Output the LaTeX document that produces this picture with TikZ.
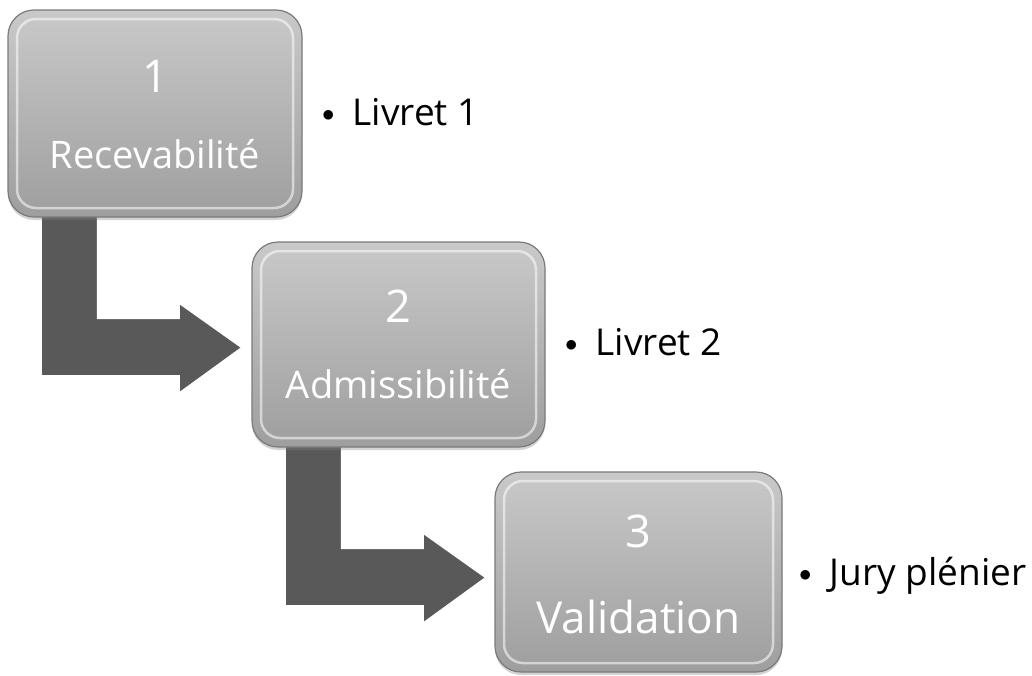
\documentclass[tikz,border=0pt]{standalone}
\usepackage{fontspec}
\setmainfont{Open Sans}
\usetikzlibrary{positioning, shadows, backgrounds}
\definecolor{arrowgray}{HTML}{595959}
\definecolor{boxtop}{HTML}{C9C9C9}
\definecolor{boxbottom}{HTML}{9E9E9E}
\definecolor{boxrim}{HTML}{7A7A7A}
\tikzstyle{stepbox}=[rounded corners=26pt, inner sep=0pt, draw=boxrim, line width=1.2pt,
  top color=boxtop, bottom color=boxbottom,
  drop shadow={shadow xshift=0pt, shadow yshift=-3pt, opacity=0.35},
  path picture={\draw[white, opacity=0.55, line width=2.5pt, rounded corners=19pt]
    ([shift={(9pt,-9pt)}]path picture bounding box.north west) rectangle
    ([shift={(-9pt,9pt)}]path picture bounding box.south east);}]
\tikzstyle{stepnum}=[anchor=base, inner sep=0pt, text=white, font=\fontsize{45}{45}\selectfont]
\tikzstyle{steptext}=[anchor=base, inner sep=0pt, text=white, font=\fontsize{38}{38}\selectfont]
\tikzstyle{note}=[anchor=base west, inner sep=0pt, font=\fontsize{37}{37}\selectfont]
\tikzstyle{bentarrow}=[fill=arrowgray, draw=white, line width=1pt]
\newcommand{\stepbox}{\node[stepbox]}
\newcommand{\notedot}{\raisebox{4pt}{$\bullet$}\hspace{18pt}}

\begin{document}
\begin{tikzpicture}[x=1pt, y=-1pt]
  \useasboundingbox (0,0) rectangle (1032,675);
  \stepbox (s1) at (155,113.5) [minimum width=294pt, minimum height=207pt]{};
  \stepbox (s2) at (398.5,344.5) [minimum width=293pt, minimum height=205pt]{};
  \stepbox (s3) at (638.5,572) [minimum width=287pt, minimum height=200pt]{};
  % bent arrows behind the boxes
  \begin{scope}[on background layer]
    \foreach \from in {s1, s2}{
      \begin{scope}[shift={(\from.south west)}]
        \draw[bentarrow] (34,-10) -- (34,158) -- (172,158) -- (172,175) -- (234,130)
          -- (172,86) -- (172,101) -- (90,101) -- (90,-10) -- cycle;
      \end{scope}
    }
  \end{scope}
  \node[stepnum] (n1) at (155,92) {1};
  \node[steptext] (t1) at (155,168) {Recevabilité};
  \node[stepnum] (n2) at (398.5,322) {2};
  \node[steptext] (t2) at (398.5,398) {Admissibilité};
  \node[stepnum] (n3) at (638.5,547) {3};
  \node[steptext, font=\fontsize{44}{44}\selectfont] (t3) at (638.5,633) {Validation};
  \node[note] (l1) at (322,125) {\notedot Livret 1};
  \node[note] (l2) at (565,355) {\notedot Livret 2};
  \node[note] (l3) at (799,585) {\notedot Jury plénier};
\end{tikzpicture}
\end{document}
